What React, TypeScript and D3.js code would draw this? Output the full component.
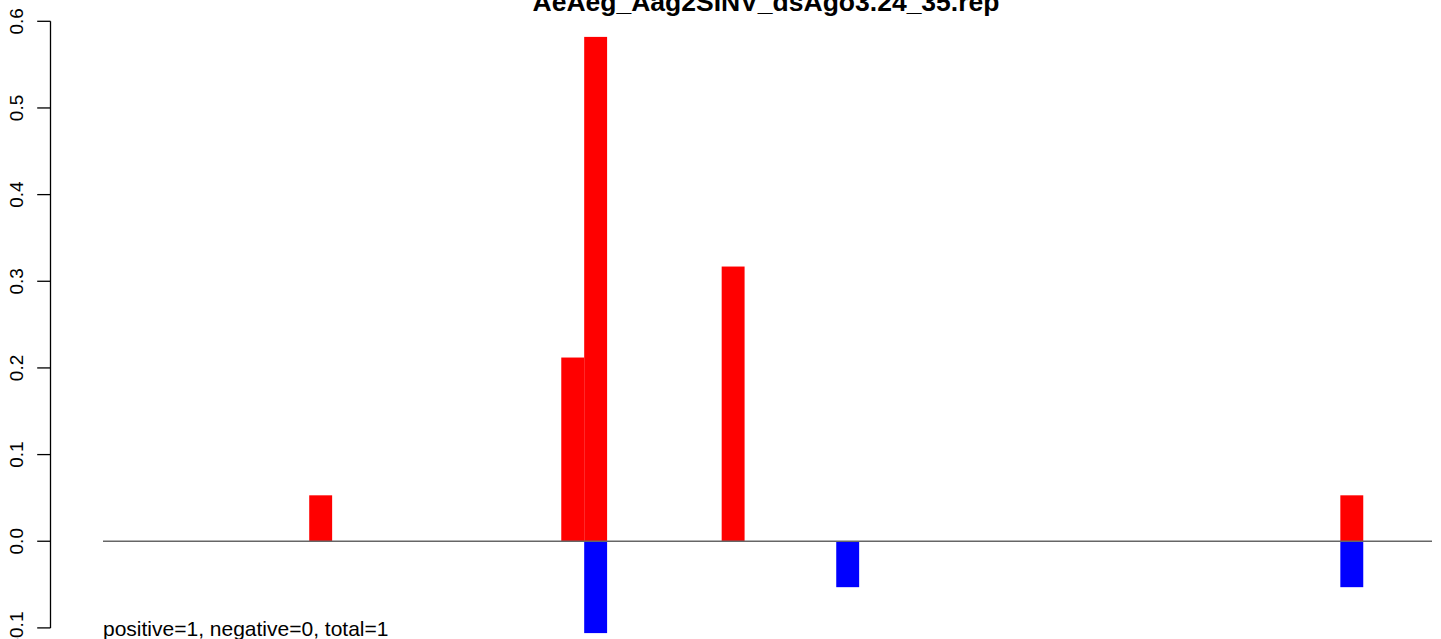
import React from "react";
import * as d3 from "d3";

const title = "AeAeg_Aag2SINV_dsAgo3.24_35.rep";
const footer = "positive=1, negative=0, total=1";
const slotCount = 58;
const posSlots = [9, 20, 21, 27, 54];
const posValues = [0.053, 0.212, 0.582, 0.317, 0.053];
const negSlots = [21, 32, 54];
const negValues = [-0.106, -0.053, -0.053];
const yTicks = [-0.1, 0.0, 0.1, 0.2, 0.3, 0.4, 0.5, 0.6];

const W = 1441;
const H = 639;

export default function App() {
  const x = d3.scaleLinear().domain([0, slotCount]).range([103, 1432]);
  const y = d3.scaleLinear().domain([-0.1, 0.6]).range([627.9, 21.3]);
  const bw = x(1) - x(0);
  const axisX = 50.5;
  const font = "'Liberation Sans', Arial, Helvetica, sans-serif";
  return (
    <svg
      width={W}
      height={H}
      style={{ position: "fixed", left: 0, top: 0, background: "#fff" }}
      fontFamily={font}
    >
      <rect x={0} y={0} width={W} height={H} fill="#fff" />
      {posSlots.map((s, i) => (
        <rect
          key={"p" + i}
          x={x(s)}
          y={y(posValues[i])}
          width={bw}
          height={y(0) - y(posValues[i])}
          fill="#ff0000"
        />
      ))}
      {negSlots.map((s, i) => (
        <rect
          key={"n" + i}
          x={x(s)}
          y={y(0)}
          width={bw}
          height={y(negValues[i]) - y(0)}
          fill="#0000ff"
        />
      ))}
      <line x1={x(0)} x2={x(slotCount)} y1={y(0)} y2={y(0)} stroke="#666" strokeWidth={1.3} />
      <line x1={axisX} x2={axisX} y1={y(-0.1)} y2={y(0.6)} stroke="#000" strokeWidth={1.3} />
      {yTicks.map((t) => (
        <g key={t}>
          <line x1={axisX - 13.3} x2={axisX} y1={y(t)} y2={y(t)} stroke="#000" strokeWidth={1.3} />
          <text
            transform={`translate(22.7,${y(t)}) rotate(-90)`}
            textAnchor="middle"
            fontSize={19}
            fill="#000"
          >
            {t.toFixed(1)}
          </text>
        </g>
      ))}
      <text x={766} y={11} textAnchor="middle" fontSize={26.5} fontWeight="bold" fill="#000">
        {title}
      </text>
      <text x={103} y={636} fontSize={21} fill="#000">
        {footer}
      </text>
    </svg>
  );
}
